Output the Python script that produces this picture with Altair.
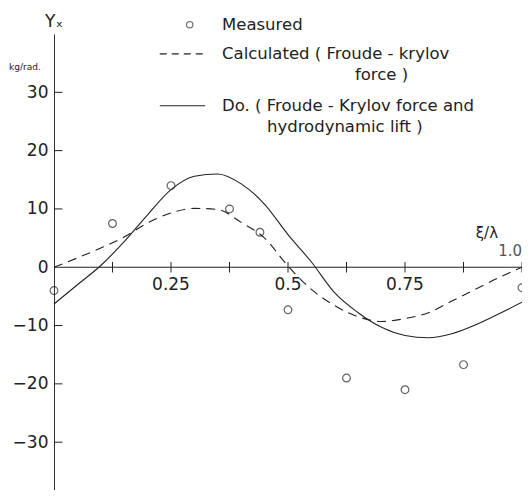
import altair as alt
import pandas as pd

# ---- data ----
curve_x = [0, 0.05, 0.1, 0.15, 0.2, 0.25, 0.3, 0.35, 0.4, 0.45, 0.5,
           0.55, 0.6, 0.65, 0.7, 0.75, 0.8, 0.85, 0.9, 0.95, 1.0]
calc_fk = [0, 1.6, 3.3, 5.2, 7.6, 9.3, 10.1, 9.9, 7.7, 5.0, 0.2,
           -3.8, -6.6, -8.5, -9.3, -8.8, -7.8, -5.8, -3.8, -1.8, 0]
calc_fk_lift = [-6.3, -3.0, 0.3, 4.4, 9.0, 13.3, 15.6, 16.0, 14.3, 10.8, 5.6,
                0.9, -4.4, -7.8, -10.3, -11.7, -12.1, -11.4, -9.9, -8.0, -6.0]
meas_x = [0, 0.125, 0.25, 0.375, 0.44, 0.5, 0.625, 0.75, 0.875, 1.0]
meas_y = [-4, 7.5, 14, 10, 6, -7.3, -19, -21, -16.7, -3.5]

y_ticks = [-30, -20, -10, 0, 10, 20, 30]
x_ticks = [0.125, 0.25, 0.375, 0.5, 0.625, 0.75, 0.875, 1.0]
x_labels = [0.25, 0.5, 0.75]
x_label_text = ["0.25", "0.5", "0.75"]

legend_text = ["Measured", "Calculated ( Froude - krylov", "force )",
               "Do. ( Froude - Krylov force and", "hydrodynamic  lift )"]
legend_tx = [0.359, 0.359, 0.643, 0.359, 0.455]
legend_ty = [41.6, 36.6, 33.0, 27.7, 24.1]

FONT = "DejaVu Sans"
INK = "#222222"
XS = alt.Scale(domain=[0, 1], nice=False, zero=False)
YS = alt.Scale(domain=[-38.2, 40], nice=False, zero=False)

YAXIS = alt.Axis(values=y_ticks, tickSize=0, labelPadding=6, labelFontSize=17,
                 labelFont=FONT, labelColor=INK, domainColor="#333333",
                 domainWidth=1, grid=False, title=None, labelFontWeight="normal")


def X(f):
    return alt.X(f, type="quantitative", scale=XS, axis=None)


def Y(f):
    return alt.Y(f, type="quantitative", scale=YS, axis=YAXIS)


curves = pd.DataFrame({"x": curve_x, "calc": calc_fk, "lift": calc_fk_lift})
meas = pd.DataFrame({"x": meas_x, "y": meas_y})

# x axis line at y = 0
xline = alt.Chart(pd.DataFrame({"x": [0], "x2": [1.0], "y": [0]})).mark_rule(
    color=INK, strokeWidth=1).encode(x=X("x"), x2="x2", y=Y("y"))

# x ticks crossing the axis
xt = pd.DataFrame({"x": x_ticks, "y": [-0.9] * len(x_ticks), "y2": [0.9] * len(x_ticks)})
xtick = alt.Chart(xt).mark_rule(color=INK, strokeWidth=1).encode(
    x=X("x"), y=Y("y"), y2="y2")

# y ticks pointing inwards
yt_vals = [v for v in y_ticks if v != 0]
yt = pd.DataFrame({"x": [0] * len(yt_vals), "x2": [0.018] * len(yt_vals), "y": yt_vals})
ytick = alt.Chart(yt).mark_rule(color=INK, strokeWidth=1).encode(
    x=X("x"), x2="x2", y=Y("y"))

# x tick labels below the axis
xl = pd.DataFrame({"x": x_labels, "y": [-3.1] * 3, "t": x_label_text})
xlab = alt.Chart(xl).mark_text(font=FONT, fontSize=17, color=INK, baseline="middle",
                               align="center").encode(x=X("x"), y=Y("y"), text="t:N")

one = alt.Chart(pd.DataFrame({"x": [1.0], "y": [2.8], "t": ["1.0"]})).mark_text(
    font=FONT, fontSize=15, color="#555555", align="right", baseline="middle").encode(
    x=X("x"), y=Y("y"), text="t:N")

xi = alt.Chart(pd.DataFrame({"x": [0.925], "y": [5.8], "t": ["ξ/λ"]})).mark_text(
    font=FONT, fontSize=15, color=INK, align="center", baseline="middle").encode(
    x=X("x"), y=Y("y"), text="t:N")

ytitle = alt.Chart(pd.DataFrame({"x": [0.0], "y": [42.1], "t": ["Yₓ"]})).mark_text(
    font=FONT, fontSize=17, color=INK, align="center", baseline="middle").encode(
    x=X("x"), y=Y("y"), text="t:N")

yunit = alt.Chart(pd.DataFrame({"x": [-0.062], "y": [34.3], "t": ["kg/rad."]})).mark_text(
    font=FONT, fontSize=9, color=INK, align="center", baseline="middle").encode(
    x=X("x"), y=Y("y"), text="t:N")

dashed = alt.Chart(curves).mark_line(color=INK, strokeWidth=1.1, strokeDash=[9, 6],
                                     interpolate="monotone").encode(x=X("x"), y=Y("calc"))
solid = alt.Chart(curves).mark_line(color=INK, strokeWidth=1.1,
                                    interpolate="monotone").encode(x=X("x"), y=Y("lift"))
points = alt.Chart(meas).mark_point(shape="circle", size=60, filled=False, color=INK,
                                    strokeWidth=1.2).encode(x=X("x"), y=Y("y"))

# legend
leg_pt = alt.Chart(pd.DataFrame({"x": [0.29], "y": [41.6]})).mark_point(
    shape="circle", size=40, filled=False, color=INK, strokeWidth=1.1).encode(
    x=X("x"), y=Y("y"))
leg_dash = alt.Chart(pd.DataFrame({"x": [0.226], "x2": [0.323], "y": [36.6]})).mark_rule(
    color=INK, strokeWidth=1.1, strokeDash=[7, 5]).encode(x=X("x"), x2="x2", y=Y("y"))
leg_solid = alt.Chart(pd.DataFrame({"x": [0.226], "x2": [0.323], "y": [27.7]})).mark_rule(
    color=INK, strokeWidth=1.1).encode(x=X("x"), x2="x2", y=Y("y"))
leg_txt = alt.Chart(pd.DataFrame({"x": legend_tx, "y": legend_ty, "t": legend_text})).mark_text(
    font=FONT, fontSize=16.5, color=INK, align="left", baseline="middle").encode(
    x=X("x"), y=Y("y"), text="t:N")

chart = alt.layer(
    xline, xtick, ytick, xlab, one, xi, ytitle, yunit,
    dashed, solid, points, leg_pt, leg_dash, leg_solid, leg_txt
).properties(
    width=468, height=456,
    autosize=alt.AutoSizeParams(type="none"),
    padding={"left": 46, "top": 26, "right": 0, "bottom": 0},
).configure(background="white").configure_view(stroke=None)

chart.save("out.html", embed_options={"renderer": "svg", "actions": False})
